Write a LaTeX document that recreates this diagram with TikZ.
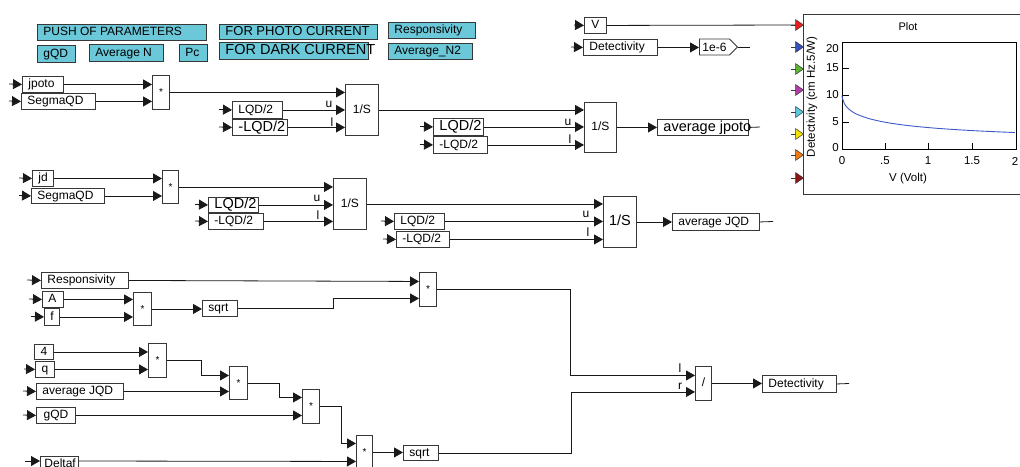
\documentclass[tikz,border=0pt]{standalone}
\usepackage{fontspec}
\setmainfont{Liberation Sans}
\usetikzlibrary{arrows.meta,calc,shapes.symbols}
\newcommand\fs[1]{\fontsize{#1}{#1}\selectfont}
\newcommand\tl[2]{\makebox[#1pt][l]{\hspace{6pt}#2}}
\newcommand\tc[2]{\makebox[#1pt]{#2}}
\definecolor{cy}{RGB}{106,200,217}
\definecolor{bd}{RGB}{55,55,55}
\definecolor{ln}{RGB}{25,25,25}
\definecolor{cblue}{RGB}{60,90,200}
\definecolor{p1}{RGB}{235,30,30}
\definecolor{p2}{RGB}{50,80,190}
\definecolor{p3}{RGB}{90,180,50}
\definecolor{p4}{RGB}{180,60,170}
\definecolor{p5}{RGB}{90,200,225}
\definecolor{p6}{RGB}{245,225,0}
\definecolor{p7}{RGB}{240,120,20}
\definecolor{p8}{RGB}{140,20,20}
\begin{document}
\begin{tikzpicture}[x=1pt,y=-1pt,
  box/.style={draw=bd, line width=0.9pt, fill=white, inner sep=0pt, anchor=north west,
    font=\fs{12}, text height=8.8pt, text depth=2.6pt},
  cbox/.style={box, fill=cy},
  big/.style={font=\fs{14.5}, text height=10.5pt, text depth=3pt},
  op/.style={box, font=\fs{10}},
  wire/.style={draw=ln, line width=0.8pt},
  arr/.style={wire, -{Triangle[length=9pt,width=10pt]}},
  lab/.style={font=\fs{12}, inner sep=0pt},
  tick/.style={font=\fs{11.5}, inner sep=0pt},
  pin/.style={draw=bd, line width=0.6pt}]
\useasboundingbox (0,0) rectangle (1020,466);

% ---------- parameter boxes ----------
\node[cbox, minimum height=16pt] (push) at (37,24) {\tl{169}{PUSH OF PARAMETERS}};
\node[cbox, minimum height=15pt] (photo) at (219,24) {\tl{158}{\fs{13}FOR PHOTO CURRENT}};
\node[cbox, minimum height=16pt] (respP) at (388,22) {\tl{87}{Responsivity}};
\node[cbox, minimum height=17pt] (gqdP) at (37,45) {\tl{38}{gQD}};
\node[cbox, minimum height=17pt] (avgN) at (89,44) {\tl{74}{Average N}};
\node[cbox, minimum height=17pt] (pc) at (179,44) {\tl{28}{Pc}};
\node[cbox, big, minimum height=17pt] (dark) at (219,42) {\tl{149}{FOR DARK CURRENT}};
\node[cbox, minimum height=16pt] (avgN2) at (388,43) {\tl{84}{Average\_N2}};

% ---------- block 1 ----------
\node[box, minimum height=16pt] (jpoto) at (22,76) {\tl{41}{jpoto}};
\node[box, minimum height=16pt] (seg1) at (21,93) {\tl{74}{SegmaQD}};
\node[op, minimum height=34pt] (mul1) at (152,75) {\tc{17}{*}};
\node[box, minimum height=17pt] (LQDa) at (232,101) {\tl{50}{LQD/2}};
\node[box, big, minimum height=16pt] (nLQDa) at (232,119) {\tl{55}{-LQD/2}};
\node[box, minimum height=51pt] (int1) at (345,84) {\tc{33}{1/S}};
\node[box, big, minimum height=17pt] (LQDb) at (433,118) {\tl{50}{LQD/2}};
\node[box, minimum height=17pt] (nLQDb) at (433,136) {\tl{54}{-LQD/2}};
\node[box, minimum height=50pt] (int2) at (584,102) {\tc{32}{1/S}};
\node[box, big, minimum height=16pt] (avgJp) at (657,119) {\tl{91}{average jpoto}};

\coordinate (s1) at (9,84);
\coordinate (s2) at (9,101);
\coordinate (s3) at (219,109.5);
\coordinate (s4) at (219,127);
\coordinate (s5) at (420,126.5);
\coordinate (s6) at (420,144.5);
\coordinate (o1) at (760,127);
\draw[arr] (s1) -- (jpoto.west);
\draw[arr] (s2) -- (seg1.west);
\draw[arr] (jpoto.east) -- (jpoto.east -| mul1.west);
\draw[arr] (seg1.east) -- (seg1.east -| mul1.west);
\draw[arr] (mul1.east) -- (mul1.east -| int1.west);
\draw[arr] (s3) -- (LQDa.west);
\draw[arr] (s4) -- (nLQDa.west);
\draw[arr] (LQDa.east) -- (LQDa.east -| int1.west);
\draw[arr] (nLQDa.east) -- (nLQDa.east -| int1.west);
\draw[arr] (int1.east) -- (int1.east -| int2.west);
\draw[arr] (s5) -- (LQDb.west);
\draw[arr] (s6) -- (nLQDb.west);
\draw[arr] (LQDb.east) -- (LQDb.east -| int2.west);
\draw[arr] (nLQDb.east) -- (nLQDb.east -| int2.west);
\draw[arr] (int2.east) -- (int2.east -| avgJp.west);
\draw[wire] (avgJp.east) -- (o1);
\node[lab] (u1) at (329,104) {u};
\node[lab] (l1) at (332,122) {l};
\node[lab] (u2) at (568,122) {u};
\node[lab] (l2) at (570,139) {l};

% ---------- block 2 ----------
\node[box, minimum height=16pt] (jd) at (32,170) {\tl{21}{jd}};
\node[box, minimum height=15pt] (seg2) at (31,188) {\tl{73}{SegmaQD}};
\node[op, minimum height=33pt] (mul2) at (162,170) {\tc{16}{*}};
\node[box, big, minimum height=15pt] (LQDc) at (208,197) {\tl{50}{LQD/2}};
\node[box, minimum height=16pt] (nLQDc) at (208,213) {\tl{55}{-LQD/2}};
\node[box, minimum height=51pt] (int3) at (333,178) {\tc{33}{1/S}};
\node[box, minimum height=16pt] (LQDd) at (394,213) {\tl{50}{LQD/2}};
\node[box, minimum height=16pt] (nLQDd) at (396,231) {\tl{53}{-LQD/2}};
\node[box, big, minimum height=51pt] (int4) at (603,196) {\tc{33}{1/S}};
\node[box, minimum height=17pt] (avgJQD) at (672,213) {\tl{87}{average JQD}};

\coordinate (t1) at (19,178);
\coordinate (t2) at (19,195.5);
\coordinate (t3) at (195,204.5);
\coordinate (t4) at (195,221);
\coordinate (t5) at (381,221);
\coordinate (t6) at (383,239);
\coordinate (o2) at (773,221.5);
\draw[arr] (t1) -- (jd.west);
\draw[arr] (t2) -- (seg2.west);
\draw[arr] (jd.east) -- (jd.east -| mul2.west);
\draw[arr] (seg2.east) -- (seg2.east -| mul2.west);
\draw[arr] (mul2.east) -- (mul2.east -| int3.west);
\draw[arr] (t3) -- (LQDc.west);
\draw[arr] (t4) -- (nLQDc.west);
\draw[arr] (LQDc.east) -- (LQDc.east -| int3.west);
\draw[arr] (nLQDc.east) -- (nLQDc.east -| int3.west);
\draw[arr] (int3.east) -- (int3.east -| int4.west);
\draw[arr] (t5) -- (LQDd.west);
\draw[arr] (t6) -- (nLQDd.west);
\draw[arr] (LQDd.east) -- (LQDd.east -| int4.west);
\draw[arr] (nLQDd.east) -- (nLQDd.east -| int4.west);
\draw[arr] (int4.east) -- (int4.east -| avgJQD.west);
\draw[wire] (avgJQD.east) -- (o2);
\node[lab] (u3) at (317,198) {u};
\node[lab] (l3) at (318,215) {l};
\node[lab] (u4) at (586,214) {u};
\node[lab] (l4) at (588,232) {l};

% ---------- block 3 ----------
\node[box, minimum height=16pt] (resp2) at (41,272) {\tl{87}{Responsivity}};
\node[box, minimum height=16pt] (A) at (42,291) {\tl{21}{A}};
\node[box, minimum height=17pt] (f) at (44,308) {\tc{15}{f}};
\node[op, minimum height=33pt] (mul3) at (133,292) {\tc{18}{*}};
\node[box, minimum height=16pt] (sqrt1) at (202,300) {\tl{35}{sqrt}};
\node[op, minimum height=34pt] (mul5) at (419,272) {\tc{17}{*}};
\node[box, minimum height=15pt] (four) at (34,344) {\tc{19}{4}};
\node[box, minimum height=16pt] (q) at (35,361) {\tc{19}{q}};
\node[op, minimum height=34pt] (mul4a) at (148,343) {\tc{18}{*}};
\node[box, minimum height=16pt] (avgJQD2) at (36,383) {\tl{87}{average JQD}};
\node[op, minimum height=33pt] (mul4b) at (229,366) {\tc{18}{*}};
\node[box, minimum height=16pt] (gqd2) at (36,407) {\tc{39}{gQD}};
\node[op, minimum height=34pt] (mul4c) at (302,389) {\tc{17}{*}};
\node[box, minimum height=16pt] (deltaf) at (40,456) {\tl{38}{\hspace{-2pt}Deltaf}};
\node[op, minimum height=34pt] (mul4d) at (356,435) {\tc{16}{*}};
\node[box, minimum height=15pt] (sqrt2) at (403,445) {\tl{35}{sqrt}};
\node[box, minimum height=34pt] (div) at (695,366) {\tc{16}{/}};
\node[box, minimum height=17pt] (det2) at (762,375) {\tl{74}{Detectivity}};

\coordinate (r1) at (27,280);
\coordinate (r2) at (29,299);
\coordinate (r3) at (31,316.5);
\coordinate (r4) at (24,369);
\coordinate (r5) at (23,391);
\coordinate (r6) at (23,415);
\coordinate (r7) at (25,461);
\coordinate (o3) at (849,383.5);
\draw[arr] (r1) -- (resp2.west);
\draw[arr] (r2) -- (A.west);
\draw[arr] (r3) -- (f.west);
\draw[arr] (r4) -- (q.west);
\draw[arr] (r5) -- (avgJQD2.west);
\draw[arr] (r6) -- (gqd2.west);
\draw[arr] (r7) -- ($(deltaf.north west)+(0,5)$);
\draw[arr] (resp2.east) -- ($(mul5.west)+(0,-8)$);
\draw[arr] (A.east) -- (A.east -| mul3.west);
\draw[arr] (f.east) -- (f.east -| mul3.west);
\draw[arr] (mul3.east) -- (mul3.east -| sqrt1.west);
\draw[arr] (sqrt1.east) -- ++(95,0) |- ($(mul5.west)+(0,9)$);
\draw[arr] (mul5.east) -- ++(133,0) |- ($(div.west)+(0,-8)$);
\draw[arr] (four.east) -- (four.east -| mul4a.west);
\draw[arr] (q.east) -- (q.east -| mul4a.west);
\draw[arr] (mul4a.east) -- ++(34,0) |- ($(mul4b.west)+(0,-7.5)$);
\draw[arr] (avgJQD2.east) -- ($(mul4b.west)+(0,8.5)$);
\draw[arr] (mul4b.east) -- ++(31,0) |- ($(mul4c.west)+(0,-9)$);
\draw[arr] (gqd2.east) -- ($(mul4c.west)+(0,9)$);
\draw[arr] (mul4c.east) -- ++(21,0) |- ($(mul4d.west)+(0,-9)$);
\draw[arr] ($(deltaf.north east)+(0,5)$) -- ($(mul4d.west)+(0,9)$);
\draw[arr] (mul4d.east) -- (mul4d.east -| sqrt2.west);
\draw[arr] (sqrt2.east) -- ++(132,0) |- ($(div.west)+(0,8.5)$);
\draw[arr] (div.east) -- (div.east -| det2.west);
\draw[wire] (det2.east) -- (o3);
\node[lab] (ldiv) at (680,368) {l};
\node[lab] (rdiv) at (680,386) {r};

% ---------- top right ----------
\node[box, minimum height=16pt] (V) at (584,17) {\tc{22}{V}};
\node[box, minimum height=16pt] (det1) at (583,39) {\tl{74}{Detectivity}};
\node[draw=bd, line width=0.9pt, fill=white, signal, signal to=east, signal pointer angle=90,
  minimum height=16pt, minimum width=38pt, inner sep=0pt, anchor=west, font=\fs{12}] (gain) at (699,47) {1e-6};
\coordinate (v0) at (574,25);
\coordinate (d0) at (571,47);
\coordinate (g1) at (750,47);
\coordinate (pin1) at (796,25);
\draw[arr] (v0) -- (V.west);
\draw[arr] (d0) -- (det1.west);
\draw[arr] (det1.east) -- (det1.east -| gain.west);
\draw[wire] (gain.east) -- (g1);
\draw[wire] (V.east) -- (pin1);

% ---------- plot ----------
\draw[bd, line width=0.9pt] (1030,14) -- (803,14) -- (803,194) -- (1030,194);
\foreach \yy/\cc in {25/p1,47/p2,69/p3,90/p4,112/p5,134/p6,155/p7,178/p8}{
  \draw[pin] (791,\yy) -- (796,\yy);
  \filldraw[fill=\cc, draw=bd, line width=0.5pt] (795.5,\yy-5.5) -- (803.5,\yy) -- (795.5,\yy+5.5) -- cycle;
}
\node[font=\fs{11}, inner sep=0pt] (ptitle) at (908,27) {Plot};
\draw[black, line width=0.9pt] (842,42) rectangle (1016,149);
\foreach \yy in {68.75,95.5,122.25}{\draw[black, line width=0.8pt] (842,\yy) -- (849,\yy);}
\foreach \xx in {885,928,972}{\draw[black, line width=0.8pt] (\xx,149) -- (\xx,143);}
\node[tick, anchor=east] (y20) at (839,49) {20};
\node[tick, anchor=east] (y15) at (839,68) {15};
\node[tick, anchor=east] (y10) at (839,95) {10};
\node[tick, anchor=east] (y5) at (839,122) {5};
\node[tick, anchor=east] (y0) at (839,148) {0};
\node[tick] (x0) at (842,161) {0};
\node[tick] (x05) at (885,161) {.5};
\node[tick] (x1) at (928,161) {1};
\node[tick] (x15) at (972,161) {1.5};
\node[tick] (x2) at (1015,161) {2};
\node[font=\fs{11.5}, inner sep=0pt] (xlab) at (908,179) {V (Volt)};
\node[font=\fs{11.5}, inner sep=0pt, rotate=90] (ylab) at (812,97) {Detectivity (cm Hz.5/W)};
\draw[cblue, line width=0.9pt] (842,95.5) -- plot[domain=0.002:2, samples=80]
  ({842+86.5*\x}, {149-53.5/(1+1.5*\x^0.585)});
\end{tikzpicture}
\end{document}
